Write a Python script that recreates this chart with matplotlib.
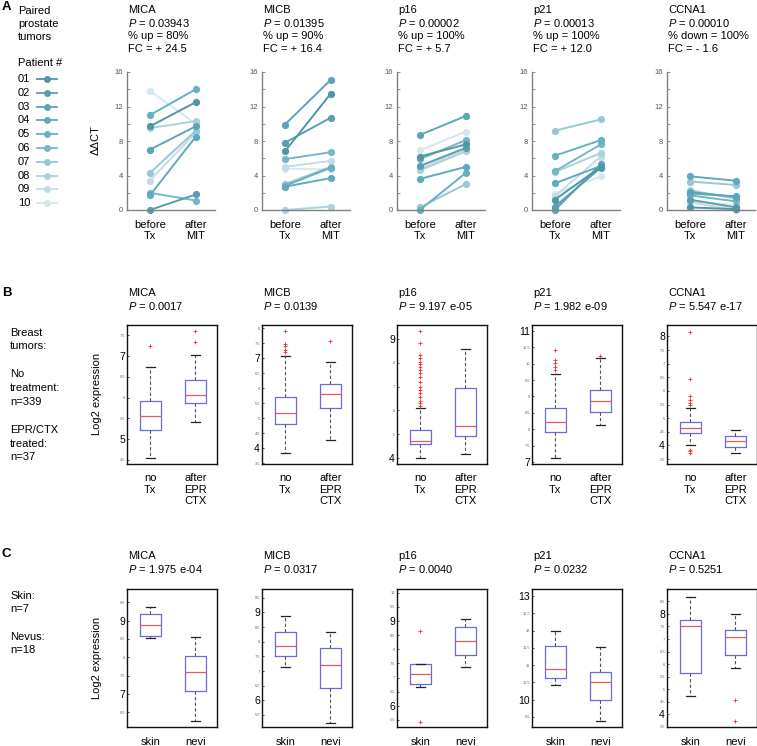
import matplotlib

matplotlib.use("Agg")
import matplotlib.pyplot as plt
from matplotlib.lines import Line2D

plt.rcParams["font.family"] = ["Liberation Sans", "DejaVu Sans"]
plt.rcParams["mathtext.fontset"] = "custom"
plt.rcParams["mathtext.rm"] = "Liberation Sans"
plt.rcParams["mathtext.it"] = "Liberation Sans:italic"

# ---- data -------------------------------------------------------------
GENES = ["MICA", "MICB", "p16", "p21", "CCNA1"]
PATIENTS = ["01", "02", "03", "04", "05", "06", "07", "08", "09", "10"]
PAT_COLORS = ["#4f97a5", "#5a9fae", "#5aa6b6", "#5eabbc", "#64b1c3",
              "#74b7c7", "#98c8d4", "#acd2dc", "#c2dde5", "#d6e8ee"]

# Panel A: paired prostate tumours, ddCT before / after MIT (patient 01..10)
A_BEFORE = [
    [9.7, 0.0, 7.0, 1.7, 11.0, 2.0, 4.3, 9.5, 3.4, 13.8],
    [6.8, 7.8, 9.9, 2.7, 2.8, 5.9, 3.0, 0.0, 5.0, 4.8],
    [6.2, 5.1, 8.7, 3.6, 0.0, 5.9, 0.3, 4.6, 4.8, 6.9],
    [1.2, 0.4, 0.0, 3.1, 6.3, 4.5, 9.2, 4.4, 1.6, 1.9],
    [0.3, 1.2, 2.1, 3.9, 1.9, 1.7, 3.3, 2.3, 0.9, 1.0],
]
A_AFTER = [
    [12.5, 1.8, 9.7, 8.5, 14.0, 1.1, 9.2, 10.3, 9.0, 10.0],
    [13.5, 10.7, 15.1, 3.7, 4.9, 6.7, 5.0, 0.4, 5.7, 4.7],
    [7.6, 7.2, 10.9, 5.0, 4.3, 8.1, 3.0, 6.8, 7.0, 9.1],
    [5.0, 4.9, 5.3, 5.1, 8.1, 7.6, 10.5, 6.6, 6.2, 3.9],
    [0.1, 0.3, 1.5, 3.4, 1.6, 1.0, 2.9, 1.3, 0.0, 0.6],
]
A_P = ["0.03943", "0.01395", "0.00002", "0.00013", "0.00010"]
A_UP = ["% up = 80%", "% up = 90%", "% up = 100%", "% up = 100%", "% down = 100%"]
A_FC = ["FC = + 24.5", "FC = + 16.4", "FC = + 5.7", "FC = + 12.0", "FC = - 1.6"]

# Panel B: breast tumours, no Tx vs after EPR/CTX
B_P = ["0.0017", "0.0139", "9.197 e-05", "1.982 e-09", "5.547 e-17"]
B_Q1 = [[5.22, 5.87], [4.80, 5.33], [4.59, 4.94], [7.91, 8.52], [4.45, 3.94]]
B_MED = [[5.55, 6.06], [5.17, 5.80], [4.71, 5.34], [8.22, 8.86], [4.64, 4.17]]
B_Q3 = [[5.92, 6.42], [5.70, 6.13], [5.17, 6.93], [8.64, 9.19], [4.86, 4.36]]
B_LO = [[4.54, 5.41], [3.83, 4.27], [4.00, 4.17], [7.12, 8.13], [4.00, 3.72]]
B_HI = [[6.73, 7.02], [7.07, 6.87], [6.10, 8.58], [9.67, 10.16], [5.39, 4.58]]
B_FLIERS = [
    [[7.24], [7.33, 7.60]],
    [[7.90, 7.47, 7.40, 7.27, 7.20], [7.57]],
    [[9.34, 8.85, 8.33, 8.19, 8.05, 7.95, 7.84, 7.70, 7.56, 7.39, 7.20,
      7.00, 6.86, 6.72, 6.58, 6.41, 6.30, 6.18], []],
    [[10.41, 10.11, 10.01, 9.91, 9.81], [10.23]],
    [[8.18, 6.45, 5.80, 5.68, 5.56, 5.49, 3.84, 3.78, 3.72], []],
]
B_YLIM = [(4.40, 7.75), (3.47, 8.10), (3.75, 9.59), (6.95, 11.17), (3.32, 8.42)]
B_TICKS = [
    [4.5, 5, 5.5, 6, 6.5, 7, 7.5],
    [3.5, 4, 4.5, 5, 5.5, 6, 6.5, 7, 7.5, 8],
    [4, 5, 6, 7, 8, 9],
    [7, 7.5, 8, 8.5, 9, 9.5, 10, 10.5, 11],
    [3.5, 4, 4.5, 5, 5.5, 6, 6.5, 7, 7.5, 8],
]
B_BIG = [[5, 7], [4, 7], [4, 9], [7, 11], [4, 8]]

# Panel C: skin vs nevi
C_P = ["1.975 e-04", "0.0317", "0.0040", "0.0232", "0.5251"]
C_Q1 = [[8.58, 7.08], [7.50, 6.41], [6.76, 7.79], [10.63, 9.99], [5.63, 6.37]]
C_MED = [[8.88, 7.60], [7.85, 7.22], [7.12, 8.28], [10.90, 10.52], [7.51, 7.10]]
C_Q3 = [[9.17, 8.04], [8.32, 7.77], [7.48, 8.80], [11.54, 10.79], [7.75, 7.34]]
C_LO = [[8.52, 6.25], [7.14, 5.24], [6.66, 7.36], [10.41, 9.37], [4.75, 5.83]]
C_HI = [[9.36, 8.54], [8.87, 8.33], [7.48, 9.08], [11.98, 11.53], [8.66, 7.99]]
C_FLIERS = [
    [[], []],
    [[], []],
    [[8.66, 5.44], []],
    [[], []],
    [[], [4.59, 3.73]],
]
C_YLIM = [(6.10, 9.86), (5.09, 9.80), (5.25, 10.13), (9.21, 13.20), (3.50, 8.99)]
C_TICKS = [
    [6.5, 7, 7.5, 8, 8.5, 9, 9.5],
    [5.5, 6, 6.5, 7, 7.5, 8, 8.5, 9, 9.5],
    [5.5, 6, 6.5, 7, 7.5, 8, 8.5, 9, 9.5, 10],
    [9.5, 10, 10.5, 11, 11.5, 12, 12.5, 13],
    [3.5, 4, 4.5, 5, 5.5, 6, 6.5, 7, 7.5, 8, 8.5],
]
C_BIG = [[7, 9], [6, 9], [6, 9], [10, 13], [4, 8]]

# ---- layout -----------------------------------------------------------
W, H = 757, 746
COLS = [127, 262, 397, 532, 667]
BOX_C = "#6a6ae6"
MED_C = "#e85a5a"

fig = plt.figure(figsize=(W / 100, H / 100), dpi=100)


def fx(px):
    return px / W


def fy(py):
    return 1 - py / H


def put(x, y, s, **kw):
    kw.setdefault("fontsize", 8)
    kw.setdefault("ha", "left")
    fig.text(fx(x), fy(y), s, va="center", **kw)


# panel letters
put(2, 7, "A", fontweight="bold", fontsize=9.5)
put(2, 293, "B", fontweight="bold", fontsize=9.5)
put(2, 554, "C", fontweight="bold", fontsize=9.5)

# ---- panel A ----------------------------------------------------------
for y, s in zip([11, 24, 37], ["Paired", "prostate", "tumors"]):
    put(18, y, s)
put(18, 63, "Patient #")
for p, lab in enumerate(PATIENTS):
    y = 79 + p * 13.8
    put(18, y, lab)
    fig.add_artist(Line2D([fx(37), fx(57)], [fy(y), fy(y)], color=PAT_COLORS[p], lw=1.3,
                          marker="o", markevery=[1], ms=0,
                          transform=fig.transFigure))
    fig.add_artist(Line2D([fx(47)], [fy(y)], color=PAT_COLORS[p], marker="o", ms=4,
                          lw=0, transform=fig.transFigure))

put(96, 140, "ΔΔCT", rotation=90, ha="center")

for i, g in enumerate(GENES):
    x0 = COLS[i] + 1
    put(x0, 10, g)
    put(x0, 23, "$P$ = " + A_P[i])
    put(x0, 36, A_UP[i])
    put(x0, 49, A_FC[i])

    ax = fig.add_axes([fx(COLS[i]), fy(210), 88 / W, 138 / H])
    for p in reversed(range(10)):
        ax.plot([0, 1], [A_BEFORE[i][p], A_AFTER[i][p]], color=PAT_COLORS[p], lw=1.4,
                marker="o", ms=4.2, clip_on=False)
    ax.set_xlim(-0.5, 1.42)
    ax.set_ylim(0, 16)
    for side in ("top", "right"):
        ax.spines[side].set_visible(False)
    for side in ("left", "bottom"):
        ax.spines[side].set_color("#808080")
        ax.spines[side].set_linewidth(1.0)
    ax.set_yticks([0, 4, 8, 12, 16])
    ax.set_yticks([2, 6, 10, 14], minor=True)
    ax.tick_params(axis="y", which="both", direction="in", length=2.5, width=0.6,
                   color="#808080", labelsize=5.5, labelcolor="#555555", pad=3)
    ax.set_xticks([0, 1], ["before\nTx", "after\nMIT"])
    ax.tick_params(axis="x", length=0, labelsize=8, pad=7)
    ax.patch.set_alpha(0)


# ---- panels B and C ---------------------------------------------------
def box_panel(row_bottom, height, labels, q1, med, q3, lo, hi, fliers, ylims, ticks, big, pvals,
              title_y, label_pad, ylab_y):
    put(97, ylab_y, "Log2 expression", rotation=90, ha="center")
    for i, g in enumerate(GENES):
        x0 = COLS[i] + 1
        put(x0, title_y, g)
        put(x0, title_y + 13, "$P$ = " + pvals[i])
        ax = fig.add_axes([fx(COLS[i]), fy(row_bottom), 90 / W, height / H])
        stats = [dict(med=med[i][j], q1=q1[i][j], q3=q3[i][j], whislo=lo[i][j],
                      whishi=hi[i][j], fliers=fliers[i][j]) for j in range(2)]
        ax.bxp(stats, positions=[1, 2], widths=0.47, capwidths=0.2,
               boxprops=dict(color=BOX_C, lw=0.9),
               medianprops=dict(color=MED_C, lw=0.9),
               whiskerprops=dict(color="#555555", lw=0.8, ls=(0, (3, 2))),
               capprops=dict(color="#222222", lw=0.9),
               flierprops=dict(marker="+", markeredgecolor="#ee3030", markersize=2.5,
                               markeredgewidth=0.6))
        ax.set_xlim(0.48, 2.48)
        ax.set_ylim(*ylims[i])
        ax.set_yticks(ticks[i], ["%g" % t for t in ticks[i]])
        for t, lab in zip(ticks[i], ax.get_yticklabels()):
            lab.set_fontsize(7.5 if t in big[i] else 2.8)
            if t not in big[i]:
                lab.set_color("#666666")
        ax.tick_params(axis="y", direction="in", length=1.5, width=0.5, pad=1.5)
        ax.set_xticks([1, 2], labels)
        ax.tick_params(axis="x", length=0, labelsize=8, pad=label_pad)
        for sp in ax.spines.values():
            sp.set_color("#111111")
            sp.set_linewidth(1.0)


for y, s in [(333, "Breast"), (346, "tumors:"), (374, "No"), (388, "treatment:"),
             (402, "n=339"), (430, "EPR/CTX"), (444, "treated:"), (457, "n=37")]:
    put(10, y, s)
box_panel(464, 139, ["no\nTx", "after\nEPR\nCTX"], B_Q1, B_MED, B_Q3, B_LO, B_HI, B_FLIERS,
          B_YLIM, B_TICKS, B_BIG, B_P, 293, 6.5, 394)

for y, s in [(596, "Skin:"), (609, "n=7"), (637, "Nevus:"), (650, "n=18")]:
    put(10, y, s)
box_panel(727, 138, ["skin", "nevi"], C_Q1, C_MED, C_Q3, C_LO, C_HI, C_FLIERS,
          C_YLIM, C_TICKS, C_BIG, C_P, 556, 7, 658)

fig.savefig("out.png", dpi=100, facecolor="white")
